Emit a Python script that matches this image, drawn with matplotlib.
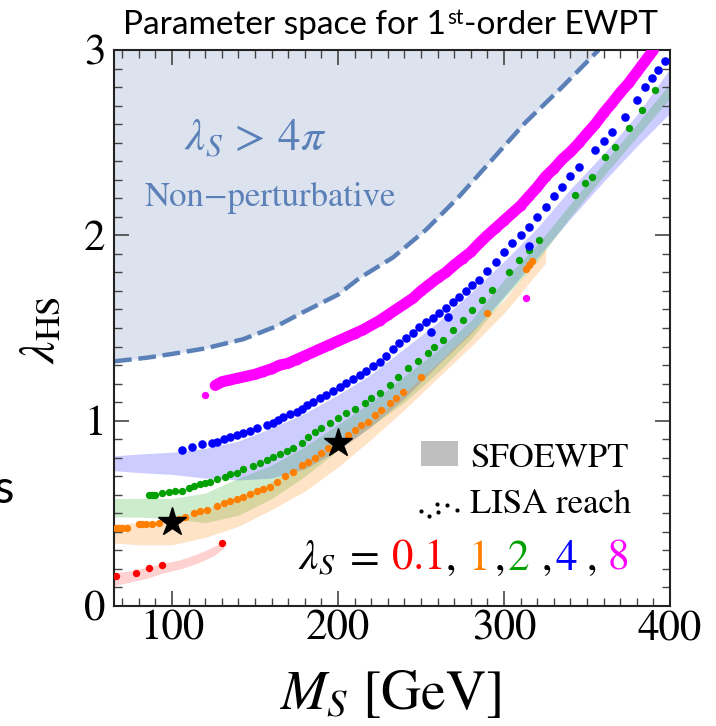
import matplotlib
matplotlib.use('Agg')
import matplotlib.pyplot as plt
import numpy as np
from matplotlib.patches import Rectangle

plt.rcParams['mathtext.fontset'] = 'stix'
plt.rcParams['font.family'] = ['STIXGeneral', 'DejaVu Serif']

# ---------------- data ----------------
# non-perturbative boundary (lambda_S = 4 pi)
np_M = [65, 85, 100, 120, 143, 163, 180, 200, 213, 233, 253, 273, 290, 313, 335, 357]
np_L = [1.32, 1.34, 1.36, 1.39, 1.44, 1.51, 1.59, 1.68, 1.77, 1.88, 2.03, 2.21, 2.38, 2.61, 2.80, 3.0]

# SFOEWPT bands
band_r_M = [65, 75, 85, 95, 105, 115, 125, 131]
band_r_lo = [0.11, 0.13, 0.15, 0.18, 0.20, 0.23, 0.27, 0.31]
band_r_hi = [0.18, 0.19, 0.21, 0.23, 0.25, 0.28, 0.32, 0.35]

band_o_M = [65, 80, 100, 120, 140, 160, 180, 200, 220, 240, 260, 280, 300, 325]
band_o_lo = [0.34, 0.33, 0.33, 0.37, 0.43, 0.52, 0.62, 0.75, 0.90, 1.06, 1.23, 1.40, 1.58, 1.85]
band_o_hi = [0.44, 0.45, 0.47, 0.52, 0.59, 0.67, 0.77, 0.88, 1.00, 1.15, 1.31, 1.48, 1.65, 1.93]

band_g_M = [65, 80, 100, 120, 140, 160, 180, 200, 220, 240, 260, 280, 300, 320, 340, 360, 380, 400]
band_g_lo = [0.48, 0.48, 0.47, 0.45, 0.49, 0.58, 0.70, 0.84, 0.97, 1.10, 1.26, 1.44, 1.66, 1.86, 2.10, 2.32, 2.53, 2.74]
band_g_hi = [0.58, 0.58, 0.58, 0.61, 0.69, 0.76, 0.86, 0.98, 1.10, 1.24, 1.38, 1.54, 1.76, 1.95, 2.17, 2.39, 2.60, 2.82]

band_b_M = [65, 80, 100, 120, 140, 160, 180, 200, 220, 240, 260, 280, 300, 320, 340, 360, 380, 400]
band_b_lo = [0.73, 0.72, 0.71, 0.69, 0.68, 0.69, 0.74, 0.84, 0.97, 1.12, 1.30, 1.47, 1.67, 1.88, 2.09, 2.29, 2.48, 2.66]
band_b_hi = [0.81, 0.82, 0.83, 0.85, 0.89, 0.96, 1.04, 1.14, 1.25, 1.39, 1.53, 1.69, 1.86, 2.04, 2.25, 2.44, 2.65, 2.90]

# LISA reach points
red_M = [66, 78, 86, 94, 130]
red_L = [0.16, 0.18, 0.203, 0.221, 0.342]

orange_M = [66, 68, 70, 73, 80, 82, 84, 88, 92, 104, 108, 113, 117, 121, 127, 131, 135, 139, 143,
            147, 151, 155, 159, 163, 168, 173, 178, 182, 186, 190, 194, 206, 210, 214, 218, 222,
            226, 231, 235, 239, 250, 290, 313, 315, 317]
orange_L = [0.42, 0.42, 0.42, 0.42, 0.44, 0.44, 0.44, 0.445, 0.45, 0.47, 0.48, 0.50, 0.514, 0.52,
            0.541, 0.555, 0.565, 0.577, 0.59, 0.605, 0.619, 0.63, 0.644, 0.671, 0.70, 0.725, 0.761,
            0.779, 0.80, 0.824, 0.85, 0.923, 0.95, 0.975, 0.995, 1.03, 1.058, 1.094, 1.125, 1.157,
            1.237, 1.58, 1.82, 1.84, 1.86]

green_M = [86, 88, 90, 94, 98, 102, 106, 110, 113, 117, 120, 123, 127, 132, 135, 139, 143, 149, 153,
           157, 161, 165, 169, 173, 178, 182, 186, 190, 195, 200, 205, 210, 216, 220, 225, 231, 236,
           242, 248, 254, 258, 263, 269, 275, 281, 287, 293, 303, 309, 315, 321, 343, 349, 353, 361,
           367, 375, 383, 391]
green_L = [0.60, 0.60, 0.60, 0.61, 0.617, 0.62, 0.622, 0.636, 0.645, 0.657, 0.665, 0.671, 0.685,
           0.698, 0.71, 0.72, 0.738, 0.757, 0.772, 0.788, 0.805, 0.82, 0.838, 0.851, 0.878, 0.91,
           0.941, 0.96, 0.99, 1.015, 1.04, 1.065, 1.094, 1.12, 1.15, 1.193, 1.235, 1.283, 1.32,
           1.364, 1.40, 1.435, 1.49, 1.543, 1.597, 1.65, 1.705, 1.804, 1.867, 1.92, 1.975, 2.218,
           2.281, 2.317, 2.425, 2.479, 2.578, 2.677, 2.785]

blue_M = [106, 112, 118, 124, 127, 131, 135, 139, 143, 147, 151, 157, 161, 164, 167, 171, 175, 178,
          181, 185, 189, 193, 197, 201, 205, 209, 213, 217, 221, 225, 229, 233, 237, 241, 245, 249,
          253, 256, 257, 261, 265, 266, 269, 273, 277, 281, 285, 290, 295, 300, 305, 310, 315, 315,
          320, 325, 330, 335, 340, 345, 355, 360, 365, 373, 380, 385, 389, 393, 397]
blue_L = [0.842, 0.86, 0.874, 0.88, 0.887, 0.90, 0.914, 0.92, 0.932, 0.945, 0.959, 0.977, 0.99,
          1.005, 1.018, 1.035, 1.049, 1.065, 1.085, 1.10, 1.12, 1.14, 1.16, 1.183, 1.205, 1.225,
          1.247, 1.27, 1.295, 1.318, 1.35, 1.385, 1.418, 1.445, 1.475, 1.507, 1.53, 1.48, 1.555,
          1.58, 1.61, 1.56, 1.64, 1.669, 1.70, 1.73, 1.76, 1.81, 1.858, 1.91, 1.957, 2.00, 2.047,
          1.94, 2.10, 2.155, 2.21, 2.263, 2.32, 2.371, 2.461, 2.51, 2.56, 2.64, 2.73, 2.80, 2.85,
          2.89, 2.94]

mag_M = [126, 130, 135, 140, 145, 150, 155, 160, 165, 170, 175, 180, 185, 190, 195, 200, 205, 210,
         215, 220, 225, 230, 235, 240, 245, 250, 255, 260, 265, 270, 275, 280, 285, 290, 295, 300,
         305, 310, 315, 320, 325, 330, 335, 340, 345, 350, 355, 360, 365, 370, 375, 380, 385, 390]
mag_L = [1.19, 1.21, 1.22, 1.23, 1.24, 1.25, 1.265, 1.28, 1.30, 1.31, 1.33, 1.35, 1.37, 1.39, 1.41,
         1.43, 1.45, 1.47, 1.49, 1.515, 1.54, 1.57, 1.60, 1.63, 1.66, 1.70, 1.735, 1.77, 1.80,
         1.84, 1.875, 1.91, 1.957, 2.00, 2.04, 2.08, 2.12, 2.16, 2.21, 2.26, 2.317, 2.36, 2.41,
         2.45, 2.497, 2.55, 2.60, 2.66, 2.713, 2.77, 2.82, 2.88, 2.94, 3.0]
mag_out_M = [120, 313]
mag_out_L = [1.14, 1.66]

star_M = [100, 200]
star_L = [0.455, 0.878]

x_major = [100, 200, 300, 400]
y_major = [0, 1, 2, 3]

lam_labels = ['0.1', '1', '2', '4', '8']
c_red, c_orange, c_green, c_blue, c_mag = '#ff0000', '#ff8000', '#00a000', '#0000ff', '#ff00ff'
lam_colors = [c_red, c_orange, c_green, c_blue, c_mag]

# ---------------- figure ----------------
W, H = 716, 726
fig = plt.figure(figsize=(W / 100, H / 100), dpi=100)
ax = fig.add_axes([114 / W, 1 - 606 / H, 556 / W, 556 / H])
ax.set_xlim(65, 400)
ax.set_ylim(0, 3)

ax.fill_between(np_M, np_L, 3.0, color='#dce3ef', lw=0, zorder=0)
ax.plot(np_M, np_L, color='#5b80b8', lw=3.2, dashes=(4.0, 1.5), zorder=1)

ax.fill_between(band_b_M, band_b_lo, band_b_hi, color=c_blue, alpha=0.2, lw=0, zorder=1)
ax.fill_between(band_g_M, band_g_lo, band_g_hi, color='#00a000', alpha=0.2, lw=0, zorder=1)
ax.fill_between(band_o_M, band_o_lo, band_o_hi, color=c_orange, alpha=0.22, lw=0, zorder=1)
ax.fill_between(band_r_M, band_r_lo, band_r_hi, color=c_red, alpha=0.18, lw=0, zorder=1)

ds = 28
ax.scatter(red_M, red_L, s=ds, color=c_red, lw=0, zorder=3)
ax.scatter(orange_M, orange_L, s=ds, color=c_orange, lw=0, zorder=3)
ax.scatter(green_M, green_L, s=ds, color=c_green, lw=0, zorder=3)
ax.scatter(blue_M, blue_L, s=38, color=c_blue, lw=0, zorder=3)
ax.plot(mag_M, mag_L, color=c_mag, lw=8, solid_capstyle='round', solid_joinstyle='round',
        marker='o', ms=7, mew=0, zorder=3)
ax.scatter(mag_out_M, mag_out_L, s=ds, color=c_mag, lw=0, zorder=3)

ax.plot(star_M, star_L, ls='none', marker='*', color='k', ms=21, zorder=5)

# ticks
ax.set_xticks(x_major)
ax.set_xticks(np.arange(70, 400, 10), minor=True)
ax.set_yticks(y_major)
ax.set_yticks(np.arange(0.1, 3.0, 0.1), minor=True)
ax.tick_params(which='both', direction='in', top=True, right=True, color='#444444')
ax.tick_params(which='major', length=11, width=1.2)
ax.tick_params(which='minor', length=5.5, width=1.0)
ax.tick_params(axis='x', which='major', labelsize=31, pad=3)
ax.tick_params(axis='y', which='major', labelsize=31, pad=6)
for sp in ax.spines.values():
    sp.set_linewidth(1.5)
    sp.set_color('#222222')

# labels
fig.text(42 / W, 1 - 330 / H, r'$\lambda_{\rm HS}$', rotation=90, fontsize=36,
         ha='center', va='center')
fig.text(390 / W, 1 - 695 / H, r'$M_S$ [GeV]', fontsize=40, ha='center', va='center')
fig.text(4 / W, 1 - 490 / H, 's', fontsize=34, family=['Lato', 'DejaVu Sans'],
         ha='center', va='center')

ax.text(0.255, 0.838, r'$\lambda_S\, >\, 4\pi$', color='#5b80b8', fontsize=32.5,
        ha='center', va='center', transform=ax.transAxes)
ax.text(0.282, 0.734, 'Non\u2212perturbative', color='#5b80b8', fontsize=25,
        ha='center', va='center', transform=ax.transAxes)

# legend
ax.add_patch(Rectangle(((421 - 114) / 556, (606 - 466) / 556), 37 / 556, 25 / 556,
                       transform=ax.transAxes, color='#bfbfbf', lw=0, zorder=6))
ax.text((470 - 114) / 556, (606 - 467) / 556, 'SFOEWPT', fontsize=25, ha='left',
        va='baseline', transform=ax.transAxes, zorder=6)
ax.text((470 - 114) / 556, (606 - 513) / 556, 'LISA reach', fontsize=25, ha='left',
        va='baseline', transform=ax.transAxes, zorder=6)
dot_px = [(421, 511), (429, 516), (437, 504), (438, 512), (447, 505), (457, 510)]
ax.scatter([(p[0] - 114) / 556 for p in dot_px], [(606 - p[1]) / 556 for p in dot_px],
           s=9, color='k', lw=0, transform=ax.transAxes, zorder=6)

# lambda_S = 0.1, 1, 2, 4, 8
base_y = (606 - 570) / 556
pieces = [(r'$\lambda_S$', 'k', 298), ('=', 'k', 350), (lam_labels[0], lam_colors[0], 392),
          (',', 'k', 446), (lam_labels[1], lam_colors[1], 468), (',', 'k', 495),
          (lam_labels[2], lam_colors[2], 508), (',', 'k', 542), (lam_labels[3], lam_colors[3], 556),
          (',', 'k', 587), (lam_labels[4], lam_colors[4], 608)]
for s, c, px in pieces:
    ax.text((px - 114) / 556, base_y, s, color=c, fontsize=31, ha='left', va='baseline',
            transform=ax.transAxes, zorder=6)

# title
renderer = fig.canvas.get_renderer()
tfam = ['Lato', 'DejaVu Sans']
tsize = 24
ty = 1 - 34 / H
x = 123
t1 = fig.text(x / W, ty, 'Parameter space for 1', fontsize=tsize, family=tfam, va='baseline')
x = t1.get_window_extent(renderer).x1 + 1
t2 = fig.text(x / W, ty + 10 / H, 'st', fontsize=tsize * 0.62, family=tfam, va='baseline')
x = t2.get_window_extent(renderer).x1 + 1
t3 = fig.text(x / W, ty, '-order EWPT', fontsize=tsize, family=tfam, va='baseline')

fig.savefig('out.png', dpi=100)
